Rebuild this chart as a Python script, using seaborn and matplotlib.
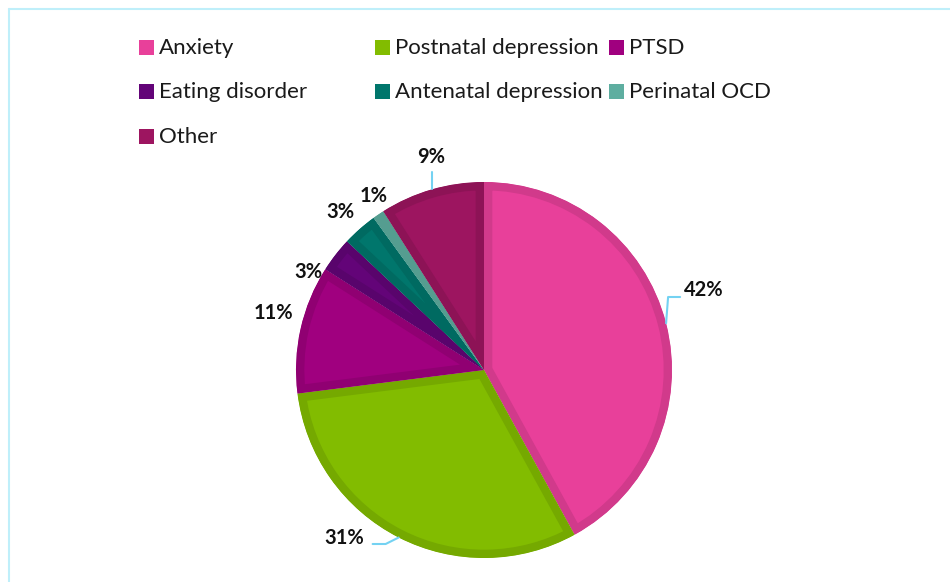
import numpy as np
import matplotlib
matplotlib.use("Agg")
import matplotlib.pyplot as plt
from matplotlib.patches import Rectangle
from matplotlib.lines import Line2D
import seaborn as sns

categories = ["Anxiety", "Postnatal depression", "PTSD", "Eating disorder",
              "Antenatal depression", "Perinatal OCD", "Other"]
values = [42, 31, 11, 3, 3, 1, 9]
labels = ["42%", "31%", "11%", "3%", "3%", "1%", "9%"]
colors = ["#E8409A", "#82BC00", "#A0007F", "#630478", "#00766C", "#5EAEA0", "#9D1560"]

sns.set_theme(style="white")
plt.rcParams["font.family"] = ["Lato", "DejaVu Sans"]

W, H = 950, 582
fig = plt.figure(figsize=(W / 100, H / 100), dpi=100)
ax = fig.add_axes([0, 0, 1, 1])

cx, cy, R = 484, H - 370, 188
palette = sns.color_palette(colors)
wedges, _ = ax.pie(values, colors=palette, startangle=90, counterclock=False,
                   center=(cx, cy), radius=R, frame=False)
for w, c in zip(wedges, palette):
    dark = tuple(np.clip(np.array(c) * 0.9, 0, 1))
    w.set_edgecolor(dark)
    w.set_linewidth(12)
    w.set_joinstyle("round")
    w.set_clip_path(w)
    w.set_clip_on(True)

ax.set_xlim(0, W)
ax.set_ylim(0, H)
ax.set_aspect("equal")
ax.axis("off")

# label positions (pixel coords from top-left) and leaders
label_pos = [(704, 290), (344, 538), (273, 313), (308, 272), (340, 212), (374, 196), (431, 157)]
lead = "#74D2F2"
def edge_pt(w):
    th = np.deg2rad((w.theta1 + w.theta2) / 2)
    return cx + R * np.cos(th), cy + R * np.sin(th)

for i, (w, lab, (lx, ly)) in enumerate(zip(wedges, labels, label_pos)):
    ax.text(lx, H - ly, lab, ha="center", va="center", fontsize=14.5,
            fontweight="bold", color="#111111")

# leaders for 42%, 31%, 9%
ex, ey = edge_pt(wedges[0])
ax.plot([ex, ex + 2, ex + 14], [ey, H - 297, H - 297], color=lead, lw=1.5)
ex, ey = edge_pt(wedges[1])
ax.plot([ex, ex - 13, ex - 26], [ey, H - 544, H - 544], color=lead, lw=1.5)
ex, ey = edge_pt(wedges[6])
ax.plot([ex, ex], [ey, H - 172], color=lead, lw=1.5)

# legend (manual, equal-width columns like the original)
col_x = [139, 375, 609]
row_y = [47.5, 92, 136.5]
for i, cat in enumerate(categories):
    r, c = divmod(i, 3)
    x0, y0 = col_x[c], row_y[r]
    fig.add_artist(Rectangle((x0 / W, (H - y0 - 7.5) / H), 15 / W, 15 / H,
                             transform=fig.transFigure, facecolor=colors[i],
                             edgecolor="none"))
    fig.text((x0 + 20) / W, (H - y0) / H, cat, ha="left", va="center",
             fontsize=16, color="#1a1a1a")

# frame lines (top and left visible)
fig.add_artist(Line2D([8.5 / W, 1], [1 - 8.5 / H, 1 - 8.5 / H], transform=fig.transFigure,
                      color="#BFEFFA", lw=1.5))
fig.add_artist(Line2D([8.5 / W, 8.5 / W], [0, 1 - 8.5 / H], transform=fig.transFigure,
                      color="#BFEFFA", lw=1.5))

fig.savefig("out.png", dpi=100, facecolor="white")
